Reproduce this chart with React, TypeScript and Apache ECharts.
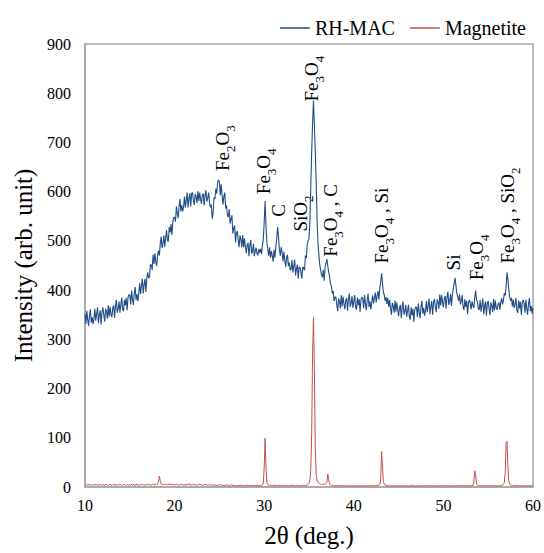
import React, { useEffect, useRef } from "react";
import * as echarts from "echarts";

const THETA_START = 10;
const THETA_STEP = 0.1;

// RH-MAC intensity, one row per degree (10.0 .. 59.9), last value at 60.0
const RH_MAC: number[] = [
  351, 331, 358, 340, 327, 349, 361, 334, 345, 331,
  342, 362, 338, 352, 365, 333, 349, 359, 330, 355,
  365, 349, 336, 362, 356, 342, 369, 346, 366, 351,
  345, 364, 369, 344, 368, 380, 354, 362, 377, 354,
  371, 385, 361, 357, 380, 369, 384, 359, 385, 391,
  390, 371, 399, 382, 370, 393, 406, 380, 392, 378,
  392, 414, 392, 408, 423, 393, 411, 423, 396, 425,
  436, 424, 427, 453, 451, 441, 472, 453, 475, 458,
  449, 471, 480, 470, 495, 509, 486, 494, 511, 488,
  505, 522, 501, 499, 528, 517, 534, 512, 538, 548,
  548, 539, 570, 556, 546, 570, 585, 560, 573, 560,
  569, 590, 568, 583, 598, 568, 586, 597, 570, 597,
  598, 582, 573, 595, 590, 577, 601, 581, 598, 585,
  575, 593, 596, 572, 593, 603, 580, 587, 598, 578,
  568, 574, 545, 556, 588, 585, 606, 596, 618, 624,
  620, 593, 615, 592, 574, 591, 598, 566, 572, 551,
  549, 564, 535, 544, 552, 515, 526, 531, 497, 517,
  520, 502, 487, 511, 503, 487, 512, 487, 505, 488,
  475, 492, 496, 469, 491, 502, 474, 480, 494, 469,
  480, 486, 474, 471, 484, 476, 484, 473, 491, 504,
  538, 581, 530, 497, 483, 470, 487, 466, 479, 470,
  458, 482, 466, 488, 506, 528, 508, 482, 470, 488,
  476, 458, 478, 461, 447, 465, 472, 449, 456, 441,
  442, 461, 436, 449, 462, 430, 443, 452, 423, 447,
  446, 436, 423, 447, 445, 440, 470, 465, 492, 500,
  505, 540, 610, 680, 740, 785, 735, 680, 620, 545,
  495, 472, 452, 440, 431, 426, 441, 419, 448, 455,
  463, 448, 436, 428, 412, 409, 393, 398, 378, 386,
  386, 370, 357, 383, 377, 363, 390, 367, 387, 372,
  361, 379, 384, 358, 381, 393, 366, 373, 388, 364,
  377, 390, 365, 360, 385, 369, 382, 356, 380, 386,
  383, 363, 390, 372, 359, 381, 393, 366, 377, 361,
  374, 389, 373, 384, 395, 375, 388, 398, 381, 405,
  416, 434, 414, 396, 390, 378, 386, 372, 384, 366,
  380, 363, 350, 374, 368, 354, 379, 356, 375, 360,
  347, 365, 370, 343, 366, 377, 350, 357, 370, 346,
  357, 370, 345, 340, 365, 349, 362, 336, 360, 366,
  365, 345, 373, 355, 343, 366, 378, 352, 364, 348,
  358, 378, 355, 369, 383, 351, 367, 378, 350, 375,
  382, 367, 355, 381, 376, 362, 391, 369, 390, 376,
  365, 383, 388, 362, 385, 397, 370, 377, 392, 368,
  390, 402, 413, 425, 409, 394, 386, 378, 391, 371,
  378, 390, 365, 360, 382, 366, 378, 351, 374, 380,
  373, 361, 377, 368, 364, 386, 399, 379, 377, 362,
  360, 380, 356, 370, 383, 351, 367, 377, 348, 373,
  378, 362, 349, 375, 369, 355, 382, 359, 379, 364,
  360, 371, 375, 360, 375, 384, 371, 379, 394, 389,
  408, 436, 421, 401, 386, 378, 384, 367, 381, 364,
  371, 384, 359, 354, 379, 363, 376, 350, 374, 380,
  374, 354, 381, 363, 350, 372, 384, 357, 368, 352,
  364,
];

// Magnetite intensity, same sampling
const MAGNETITE: number[] = [
  4, 3, 5, 4, 6, 3, 5, 4, 3, 5,
  4, 6, 3, 5, 4, 3, 6, 4, 5, 3,
  5, 4, 3, 6, 4, 5, 3, 4, 6, 4,
  3, 5, 4, 6, 3, 4, 5, 3, 4, 6,
  4, 3, 5, 4, 6, 4, 3, 5, 4, 3,
  5, 4, 6, 3, 5, 4, 3, 6, 4, 5,
  4, 3, 5, 6, 4, 5, 3, 4, 5, 4,
  6, 4, 5, 3, 4, 6, 5, 4, 5, 6,
  5, 6, 11, 22, 12, 6, 5, 4, 6, 5,
  4, 6, 5, 4, 7, 5, 4, 6, 5, 4,
  5, 4, 6, 5, 3, 5, 4, 6, 5, 4,
  4, 5, 3, 6, 4, 5, 7, 4, 5, 4,
  5, 4, 6, 4, 5, 3, 5, 4, 6, 5,
  4, 5, 3, 5, 4, 6, 4, 3, 5, 4,
  3, 5, 4, 3, 5, 4, 2, 4, 3, 5,
  4, 3, 5, 3, 4, 2, 4, 3, 5, 3,
  4, 2, 3, 5, 3, 4, 2, 4, 3, 2,
  3, 4, 2, 3, 4, 3, 2, 4, 3, 3,
  2, 4, 3, 3, 2, 4, 3, 2, 4, 3,
  3, 2, 4, 3, 3, 2, 4, 3, 4, 8,
  40, 99, 38, 9, 5, 4, 3, 4, 3, 2,
  3, 4, 2, 3, 4, 3, 2, 4, 3, 2,
  3, 2, 4, 3, 2, 3, 4, 2, 3, 3,
  2, 3, 4, 2, 3, 2, 3, 4, 2, 3,
  3, 2, 3, 4, 3, 2, 4, 3, 4, 5,
  8, 14, 35, 110, 270, 345, 240, 80, 25, 13,
  10, 8, 7, 6, 5, 5, 6, 5, 6, 7,
  10, 26, 15, 6, 4, 3, 3, 4, 3, 2,
  3, 2, 3, 2, 3, 2, 3, 2, 3, 2,
  2, 3, 2, 3, 2, 3, 2, 2, 3, 2,
  3, 2, 2, 3, 2, 3, 2, 3, 2, 3,
  2, 3, 2, 2, 3, 2, 3, 2, 3, 2,
  3, 2, 3, 2, 3, 3, 2, 3, 4, 5,
  12, 72, 42, 11, 5, 4, 3, 3, 2, 3,
  3, 2, 3, 2, 3, 2, 3, 2, 3, 2,
  2, 3, 2, 3, 2, 2, 3, 2, 3, 2,
  3, 2, 2, 3, 2, 3, 2, 3, 2, 2,
  3, 2, 3, 2, 2, 3, 2, 3, 2, 3,
  2, 3, 2, 3, 2, 3, 3, 2, 3, 2,
  3, 2, 3, 2, 3, 2, 2, 3, 2, 3,
  2, 3, 2, 3, 3, 2, 3, 2, 3, 2,
  3, 2, 3, 2, 2, 3, 2, 3, 2, 3,
  2, 3, 2, 3, 2, 3, 2, 3, 3, 2,
  3, 2, 3, 3, 10, 33, 24, 7, 4, 3,
  3, 2, 3, 2, 3, 2, 3, 3, 2, 3,
  2, 3, 2, 3, 2, 3, 3, 2, 3, 2,
  3, 2, 3, 3, 4, 3, 4, 5, 9, 30,
  90, 93, 40, 12, 6, 4, 3, 3, 2, 3,
  3, 2, 3, 2, 3, 2, 3, 2, 3, 2,
  2, 3, 2, 3, 2, 3, 2, 3, 2, 3,
  2,
];

const SERIES_NAMES = ["RH-MAC", "Magnetite"];

// Peak labels: rich-text segments, 2θ and intensity of the label's foot
const PEAK_LABELS: { parts: [string, string][]; x: number; y: number }[] = [
  { parts: [["a", "Fe"], ["s", "2"], ["a", "O"], ["s", "3"]], x: 25.4, y: 642 },
  { parts: [["a", "Fe"], ["s", "3"], ["a", "O"], ["s", "4"]], x: 30.0, y: 595 },
  { parts: [["a", "C"]], x: 31.7, y: 549 },
  { parts: [["a", "SiO"], ["s", "2"]], x: 34.1, y: 519 },
  { parts: [["a", "Fe"], ["s", "3"], ["a", "O"], ["s", "4"]], x: 35.3, y: 783 },
  { parts: [["a", "Fe"], ["s", "3"], ["a", "O"], ["s", "4"], ["a", " , C"]], x: 37.4, y: 468 },
  { parts: [["a", "Fe"], ["s", "3"], ["a", "O"], ["s", "4"], ["a", " , Si"]], x: 43.2, y: 454 },
  { parts: [["a", "Si"]], x: 51.15, y: 440 },
  { parts: [["a", "Fe"], ["s", "3"], ["a", "O"], ["s", "4"]], x: 53.7, y: 420 },
  { parts: [["a", "Fe"], ["s", "3"], ["a", "O"], ["s", "4"], ["a", " , SiO"], ["s", "2"]], x: 57.2, y: 454 },
];

const FONT = "Times New Roman, Liberation Serif, serif";

function toPairs(values: number[]): [number, number][] {
  return values.map((v, i) => [Math.round((THETA_START + i * THETA_STEP) * 10) / 10, v]);
}

export default function App() {
  const ref = useRef<HTMLDivElement>(null);

  useEffect(() => {
    document.body.style.margin = "0";
    const chart = echarts.init(ref.current!, null, { renderer: "svg" });
    chart.setOption({
      animation: false,
      backgroundColor: "#ffffff",
      textStyle: { fontFamily: FONT },
      grid: {
        left: 85,
        right: 7,
        top: 44,
        bottom: 63,
        show: true,
        borderColor: "#a6a6a6",
        borderWidth: 1.5,
      },
      legend: {
        data: SERIES_NAMES.map((n) => ({ name: n, icon: "rect" })),
        right: 13,
        top: 13,
        itemWidth: 30,
        itemHeight: 1.5,
        itemGap: 15,
        textStyle: { fontSize: 20, fontFamily: FONT, color: "#000" },
      },
      xAxis: {
        type: "value",
        min: 10,
        max: 60,
        interval: 10,
        name: "2θ (deg.)",
        nameLocation: "middle",
        nameGap: 36,
        nameTextStyle: { fontSize: 25, fontFamily: FONT, color: "#000" },
        axisLine: { show: true, lineStyle: { color: "#a6a6a6", width: 1.5 } },
        axisTick: { show: false },
        splitLine: { show: false },
        axisLabel: { fontSize: 16, fontFamily: FONT, color: "#000", margin: 10 },
      },
      yAxis: {
        type: "value",
        min: 0,
        max: 900,
        interval: 100,
        name: "Intensity (arb. unit)",
        nameLocation: "middle",
        nameGap: 46,
        nameTextStyle: { fontSize: 25, fontFamily: FONT, color: "#000" },
        axisLine: { show: true, lineStyle: { color: "#a6a6a6", width: 1.5 } },
        axisTick: { show: false },
        splitLine: { show: false },
        axisLabel: { fontSize: 16, fontFamily: FONT, color: "#000", margin: 14 },
      },
      series: [
        {
          name: SERIES_NAMES[0],
          type: "line",
          data: toPairs(RH_MAC),
          showSymbol: false,
          symbol: "none",
          lineStyle: { color: "#1F4E87", width: 1.1 },
          itemStyle: { color: "#1F4E87" },
        },
        {
          name: SERIES_NAMES[1],
          type: "line",
          data: toPairs(MAGNETITE),
          showSymbol: false,
          symbol: "none",
          lineStyle: { color: "#C0504D", width: 1 },
          itemStyle: { color: "#C0504D" },
        },
      ],
    });

    const graphics = PEAK_LABELS.map((lab) => {
      const [px, py] = chart.convertToPixel({ gridIndex: 0 }, [lab.x, lab.y]) as number[];
      const hasSub = lab.parts.some((p) => p[0] === "s");
      const text = lab.parts.map(([k, t]) => `{${k}|${t}}`).join("");
      return {
        type: "text",
        x: px + (hasSub ? 2 : 0),
        y: py,
        rotation: Math.PI / 2,
        silent: true,
        style: {
          text,
          align: "left",
          verticalAlign: "middle",
          fill: "#000",
          rich: {
            a: { fontSize: 19, fontFamily: FONT, lineHeight: 20, verticalAlign: "top", fill: "#000" },
            s: { fontSize: 13, fontFamily: FONT, lineHeight: 24, verticalAlign: "bottom", fill: "#000" },
          },
        },
      };
    });
    chart.setOption({ graphic: graphics });

    return () => chart.dispose();
  }, []);

  return <div ref={ref} style={{ width: 544, height: 553 }} />;
}
